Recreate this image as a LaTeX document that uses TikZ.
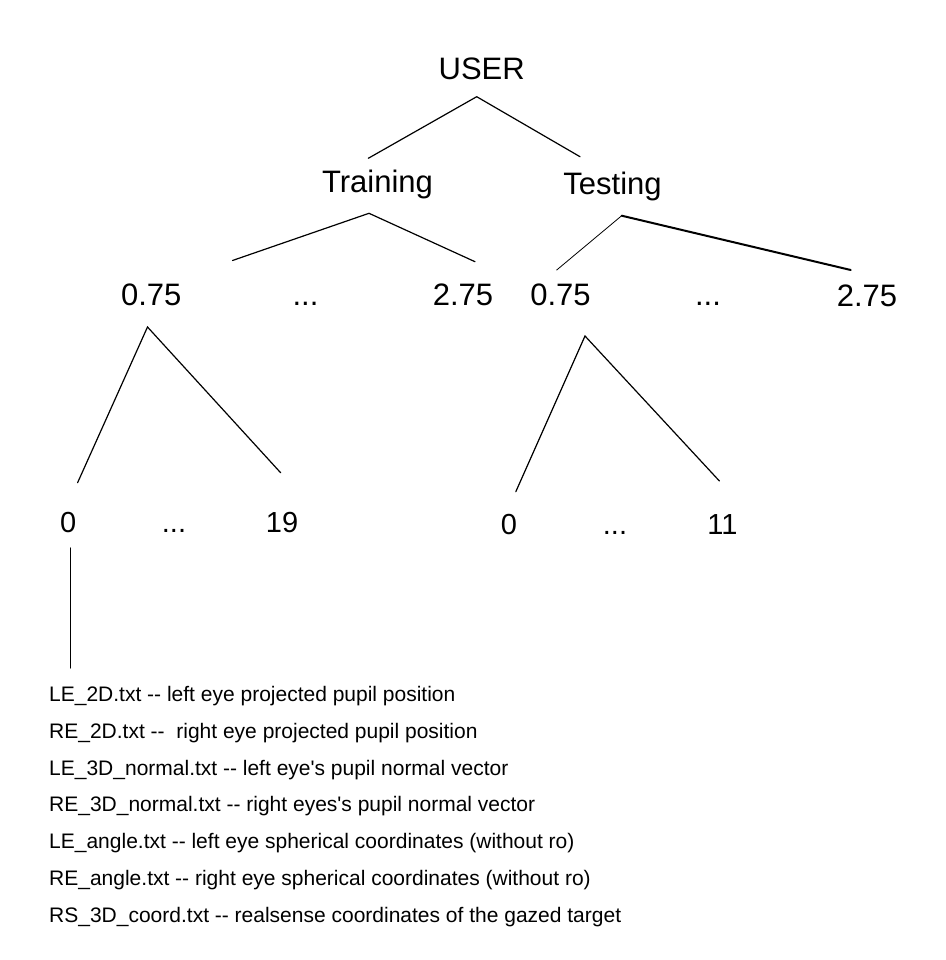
\documentclass[tikz,border=0pt]{standalone}
\usepackage{fontspec}
\newfontfamily\rf{Liberation Sans}
\begin{document}
\begin{tikzpicture}[x=1pt,y=-1pt,
  big/.style={font=\rf\fontsize{31}{31}\selectfont, inner sep=0pt, anchor=base},
  mid/.style={font=\rf\fontsize{29}{29}\selectfont, inner sep=0pt, anchor=base},
  item/.style={font=\rf\fontsize{21}{21}\selectfont, inner sep=0pt, anchor=base west},
  conn/.style={line width=1.2pt, line cap=round},
  thinconn/.style={line width=0.8pt, line cap=round},
  thickconn/.style={line width=2pt, line cap=round}]
\useasboundingbox (0,0) rectangle (945,960);
\fill[white] (0,0) rectangle (945,960);

% level 1 and 2
\node[big] (user) at (481.7,79.3) {USER};
\node[big] (train) at (377.5,193) {Training};
\node[big] (test) at (612.5,194) {Testing};

% level 3
\node[big] (tr075) at (151.2,305) {0.75};
\node[big] (trdots) at (305.5,305) {...};
\node[big] (tr275) at (463,305) {2.75};
\node[big] (te075) at (560.5,305) {0.75};
\node[big] (tedots) at (708,305) {...};
\node[big] (te275) at (867,306) {2.75};

% level 4
\node[mid] (tr0) at (68.3,532) {0};
\node[mid] (trd2) at (174,532) {...};
\node[mid] (tr19) at (282,532) {19};
\node[mid] (te0) at (509,534) {0};
\node[mid] (ted2) at (615,534) {...};
\node[mid] (te11) at (722.5,534) {11};

% file list
\node[item] (f1) at (49,701.7) {LE\_2D.txt -{}- left eye projected pupil position};
\node[item] (f2) at (49,738.4) {RE\_2D.txt -{}-\ \ right eye projected pupil position};
\node[item] (f3) at (49,775.1) {LE\_3D\_normal.txt -{}- left eye's pupil normal vector};
\node[item] (f4) at (49,811.8) {RE\_3D\_normal.txt -{}- right eyes's pupil normal vector};
\node[item] (f5) at (49,848.5) {LE\_angle.txt -{}- left eye spherical coordinates (without ro)};
\node[item] (f6) at (49,885.2) {RE\_angle.txt -{}- right eye spherical coordinates (without ro)};
\node[item] (f7) at (49,922) {RS\_3D\_coord.txt -{}- realsense coordinates of the gazed target};

% connector end points
\coordinate (userS) at (476.7,96.7);
\coordinate (trainN) at (368.3,158.3);
\coordinate (testN) at (580,156.7);
\coordinate (trainS) at (369,213.3);
\coordinate (tr075N) at (232.5,260.5);
\coordinate (tr275N) at (475,261.7);
\coordinate (testS) at (621.7,215.7);
\coordinate (te075N) at (556.7,270);
\coordinate (te275N) at (850.7,270);
\coordinate (tr075S) at (147.5,327);
\coordinate (tr0N) at (77.6,482.7);
\coordinate (tr19N) at (280.6,472.7);
\coordinate (te075S) at (585,336);
\coordinate (te0N) at (515.8,491.7);
\coordinate (te11N) at (719.4,481);
\coordinate (tr0S) at (70.7,548);
\coordinate (f1N) at (70.7,668);

% connectors
\draw[conn] (trainN) -- (userS) -- (testN);
\draw[conn] (tr075N) -- (trainS) -- (tr275N);
\draw[thinconn] (te075N) -- (testS);
\draw[thickconn] (testS) -- (te275N);
\draw[conn] (tr0N) -- (tr075S) -- (tr19N);
\draw[conn] (te0N) -- (te075S) -- (te11N);
\draw[conn] (tr0S) -- (f1N);
\end{tikzpicture}
\end{document}
